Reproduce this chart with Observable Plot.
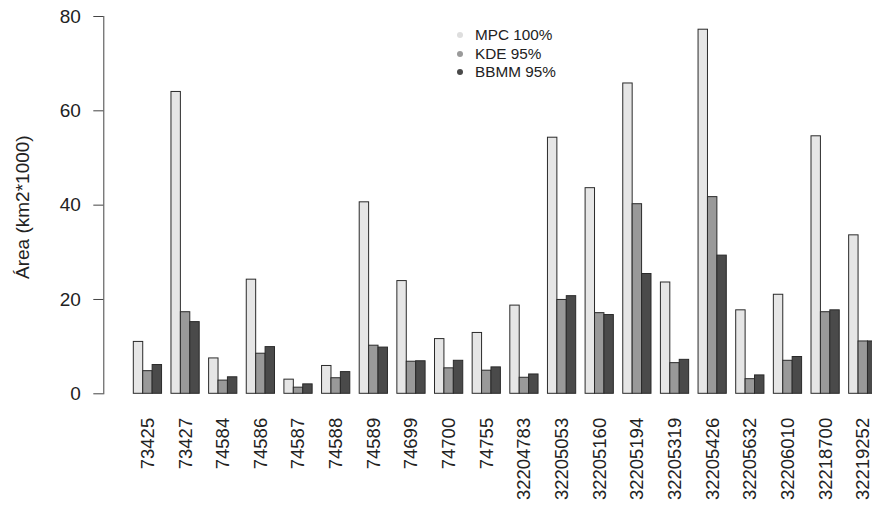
<!DOCTYPE html>
<html>
<head>
<meta charset="utf-8">
<script src="https://cdn.jsdelivr.net/npm/d3@7"></script>
<script src="https://cdn.jsdelivr.net/npm/@observablehq/plot@0.6"></script>
<style>
  html, body { margin: 0; padding: 0; background: #fff; overflow: hidden; }
  #wrap { position: relative; width: 872px; height: 510px; font-family: "Liberation Sans", Arial, sans-serif; }
  #legend { position: absolute; left: 454px; top: 26px; font-size: 15.3px; color: #222; line-height: 18.5px; }
  #legend .row { display: flex; align-items: center; }
  #legend .dot { width: 6px; height: 6px; border-radius: 50%; margin-right: 12px; margin-left: 3px; }
</style>
</head>
<body>
<div id="wrap"><div id="legend"></div></div>
<script>
const ids = ["73425","73427","74584","74586","74587","74588","74589","74699","74700","74755",
  "32204783","32205053","32205160","32205194","32205319","32205426","32205632","32206010","32218700","32219252"];
const seriesNames = ["MPC 100%", "KDE 95%", "BBMM 95%"];
const mpc  = [11.0, 64.0, 7.5, 24.2, 3.0, 5.9, 40.6, 23.9, 11.6, 12.9, 18.7, 54.3, 43.6, 65.8, 23.6, 77.2, 17.7, 21.0, 54.6, 33.6];
const kde  = [4.8, 17.3, 2.8, 8.5, 1.3, 3.3, 10.2, 6.8, 5.4, 4.9, 3.4, 19.9, 17.1, 40.2, 6.5, 41.7, 3.1, 7.0, 17.3, 11.1];
const bbmm = [6.1, 15.2, 3.5, 9.9, 2.0, 4.6, 9.8, 6.9, 7.0, 5.6, 4.1, 20.7, 16.7, 25.4, 7.2, 29.3, 3.9, 7.8, 17.7, 11.1];
const yTicks = [0, 20, 40, 60, 80];
const colors = ["#e6e6e6", "#999999", "#4a4a4a"];
const dotColors = ["#dedede", "#9a9a9a", "#4a4a4a"];

const values = [mpc, kde, bbmm];
const rows = [];
seriesNames.forEach((s, si) => ids.forEach((id, i) => rows.push({id, series: s, si, value: values[si][i]})));

const xRange = [123.9, 886.3];
const padIn = 0.25, padOut = 0.25;
const step = (xRange[1] - xRange[0]) / (ids.length - padIn + 2 * padOut);
const third = step * (1 - padIn) / 3;

const barMarks = seriesNames.map((s, si) => Plot.barY(rows.filter(d => d.si === si), {
  x: "id", y: "value",
  fill: colors[si], stroke: "#2a2a2a", strokeWidth: 1,
  insetLeft: third * si, insetRight: third * (2 - si)
}));

const chart = Plot.plot({
  width: 872,
  height: 510,
  marginTop: 16,
  marginBottom: 116.7,
  marginLeft: 103.3,
  marginRight: 0,
  style: {fontFamily: "'Liberation Sans', Arial, sans-serif", color: "#222", background: "#fff"},
  x: {domain: ids, range: xRange, paddingInner: padIn, paddingOuter: padOut, round: false, axis: null},
  y: {domain: [0, 80], axis: null},
  marks: [
    ...barMarks,
    Plot.frame({anchor: "left", stroke: "#444"}),
    Plot.axisY({ticks: yTicks, tickFormat: d => d, tickSize: 10, tickPadding: 13, fontSize: 19, label: null, stroke: "#444"}),
    Plot.text(["Área (km2*1000)"], {frameAnchor: "left", textAnchor: "middle", rotate: -90, dx: -81, dy: 2, fontSize: 19, fill: "#222"}),
    Plot.axisX({tickRotate: -90, tickSize: 0, tickPadding: 24, fontSize: 18.5, label: null, fill: "#222"})
  ]
});
document.getElementById("wrap").prepend(chart);

const legend = document.getElementById("legend");
seriesNames.forEach((s, i) => {
  const row = document.createElement("div");
  row.className = "row";
  const dot = document.createElement("span");
  dot.className = "dot";
  dot.style.background = dotColors[i];
  const t = document.createElement("span");
  t.textContent = s;
  row.append(dot, t);
  legend.append(row);
});
</script>
</body>
</html>
